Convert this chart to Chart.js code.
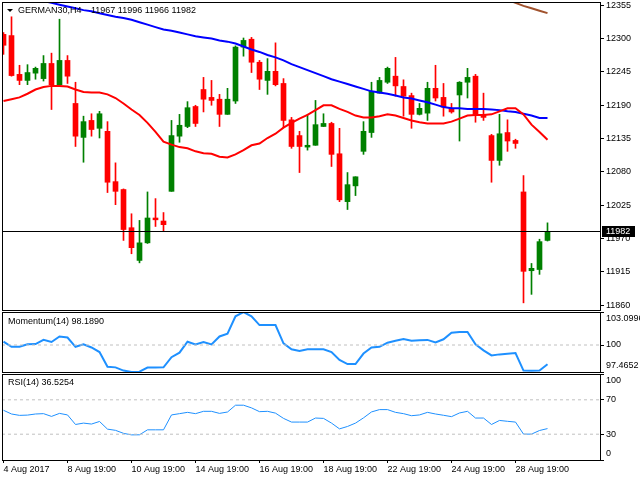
<!DOCTYPE html>
<html>
<head>
<meta charset="utf-8">
<title>GERMAN30,H4</title>
<script src="https://cdn.jsdelivr.net/npm/chart.js@4.4.1/dist/chart.umd.min.js"></script>
<style>
  html, body { margin: 0; padding: 0; background: #fff; }
  #wrap { position: relative; width: 640px; height: 480px; overflow: hidden; }
  #wrap canvas { position: absolute; left: 0; }
  #main { top: 0; }
  #mom { top: 310px; }
  #rsi { top: 372px; }
</style>
</head>
<body>
<div id="wrap">
  <canvas id="main" width="640" height="312"></canvas>
  <canvas id="mom" width="640" height="64"></canvas>
  <canvas id="rsi" width="640" height="108"></canvas>
</div>
<script>
// H4 candles, one entry per bar
const symbol = "GERMAN30,H4";
const opens = [12307, 12305, 12241, 12231, 12243, 12234, 12259, 12224, 12264, 12193,
  12137, 12165, 12152, 12147, 12064, 12051, 11988, 11934, 11963, 12004,
  11999, 12048, 12139, 12155, 12188, 12216, 12203, 12200, 12175, 12197,
  12286, 12299, 12261, 12231, 12246, 12226, 12166, 12140, 12121, 12124,
  12155, 12160, 12110, 12031, 12057, 12114, 12145, 12210, 12228, 12238,
  12221, 12206, 12175, 12177, 12218, 12203, 12185, 12207, 12228, 12238,
  12175, 12140, 12099, 12145, 12132, 12047, 11917, 11919, 11967];
const highs = [12310, 12336, 12256, 12257, 12253, 12272, 12276, 12332, 12272, 12228,
  12172, 12176, 12180, 12163, 12095, 12052, 12011, 12000, 12047, 12036,
  12013, 12165, 12175, 12196, 12190, 12236, 12231, 12208, 12218, 12288,
  12301, 12302, 12264, 12267, 12293, 12234, 12170, 12147, 12175, 12198,
  12176, 12162, 12152, 12079, 12072, 12163, 12228, 12236, 12253, 12269,
  12232, 12210, 12193, 12228, 12256, 12226, 12193, 12229, 12251, 12241,
  12210, 12142, 12175, 12166, 12134, 12074, 11929, 11969, 11996];
const lows = [12274, 12238, 12224, 12224, 12233, 12230, 12183, 12222, 12226, 12122,
  12096, 12139, 12136, 12046, 12026, 11967, 11945, 11930, 11962, 11990,
  11983, 12048, 12129, 12153, 12155, 12179, 12190, 12155, 12175, 12193,
  12271, 12244, 12216, 12208, 12222, 12153, 12119, 12079, 12116, 12124,
  12155, 12089, 12031, 12018, 12041, 12109, 12137, 12210, 12226, 12205,
  12172, 12152, 12174, 12165, 12197, 12172, 12177, 12131, 12202, 12162,
  12165, 12063, 12091, 12114, 12119, 11864, 11878, 11911, 11966];
const closes = [12289, 12239, 12231, 12244, 12251, 12259, 12224, 12264, 12238, 12139,
  12163, 12150, 12176, 12063, 12048, 11985, 11955, 11963, 12004, 12001,
  11993, 12140, 12157, 12186, 12160, 12200, 12198, 12175, 12200, 12286,
  12297, 12261, 12233, 12246, 12224, 12165, 12122, 12122, 12124, 12158,
  12160, 12109, 12034, 12059, 12072, 12147, 12213, 12231, 12251, 12222,
  12205, 12175, 12185, 12218, 12202, 12187, 12179, 12228, 12236, 12174,
  12170, 12099, 12143, 12131, 12127, 11916, 11921, 11965, 11982];

// moving averages (red, blue, brown)
const maRed = [12197, 12200, 12203, 12209, 12216, 12220, 12222, 12222, 12221, 12216,
  12212, 12211, 12211, 12208, 12202, 12193, 12183, 12174, 12161, 12146,
  12130, 12125, 12121, 12119, 12114, 12111, 12110, 12105, 12104, 12109,
  12116, 12124, 12127, 12136, 12143, 12153, 12161, 12168, 12174, 12182,
  12190, 12190, 12184, 12179, 12173, 12170, 12170, 12172, 12175, 12173,
  12169, 12165, 12162, 12160, 12160, 12160, 12163, 12168, 12173, 12174,
  12174, 12175, 12180, 12185, 12185, 12175, 12158, 12146, 12133];
const maBlue = [12376, 12373, 12370, 12367, 12365, 12362, 12359, 12356, 12353, 12350,
  12347, 12345, 12342, 12339, 12336, 12334, 12331, 12327, 12323, 12319,
  12315, 12313, 12310, 12307, 12304, 12302, 12300, 12297, 12295, 12292,
  12287, 12282, 12278, 12273, 12269, 12264, 12258, 12253, 12248, 12243,
  12238, 12233, 12229, 12225, 12221, 12217, 12213, 12211, 12209, 12206,
  12203, 12201, 12198, 12195, 12191, 12187, 12185, 12185, 12184, 12184,
  12184, 12183, 12182, 12180, 12179, 12176, 12173, 12169, 12169];
const maBrown = [null, null, null, null, null, null, null, null, null, null,
  null, null, null, null, null, null, null, null, null, null,
  null, null, null, null, null, null, null, null, null, null,
  null, null, null, null, null, null, null, null, null, null,
  null, null, null, null, null, null, null, null, null, null,
  null, null, null, null, null, null, null, null, null, null,
  12376, 12372, 12368, 12364, 12359, 12354, 12350, 12346, 12342];

const momentum = [100.31, 99.83, 99.83, 100.06, 100.09, 100.48, 100.28, 100.8, 100.7, 99.83,
  100.06, 99.77, 99.34, 97.95, 97.9, 97.6, 97.47, 97.5, 97.88, 97.88,
  97.9, 98.85, 99.28, 100.31, 100.06, 100.28, 100.06, 100.8, 101.06, 102.7,
  103.09, 102.7, 101.87, 101.87, 101.87, 100.15, 99.6, 99.44, 99.6, 99.6,
  99.6, 99.34, 98.6, 98.21, 98.21, 99.2, 99.77, 99.83, 100.22, 100.4,
  100.57, 100.41, 100.45, 100.48, 100.25, 100.54, 101.15, 101.22, 101.22, 100.06,
  99.5, 99.02, 99.12, 99.18, 99.24, 97.6, 97.58, 97.6, 98.189];
const rsi = [57.8, 53.5, 51.9, 52.2, 53.5, 53.9, 50.7, 54.2, 52.4, 41.3,
  42.9, 41.8, 44.8, 35.9, 34.5, 31, 29.2, 29.3, 35.1, 35.1,
  35.1, 52.4, 53.9, 55.4, 53.9, 56.6, 56.6, 54.2, 55.8, 63.7,
  63.7, 60.6, 56.2, 56.6, 54.5, 48.4, 44.1, 44.1, 44.1, 48.8,
  48.4, 42.9, 36.2, 39, 42.9, 49, 55.9, 58.6, 58.6, 55.4,
  53.9, 51.5, 52.4, 55.4, 53.5, 52, 50.4, 54.7, 56.6, 48.8,
  48.8, 41.3, 46, 45, 44.1, 30.1, 30.1, 34.3, 36.5254];

// axes
const priceTicks = [11860, 11915, 11970, 12025, 12080, 12135, 12190, 12245, 12300, 12355];
const momTicks = [97.4652, 100, 103.0996];
const momTickLabels = ["97.4652", "100", "103.0996"];
const momLevels = [100];
const rsiTicks = [0, 30, 70, 100];
const rsiLevels = [30, 70];
const xTickIdx = [0, 8, 16, 24, 32, 40, 48, 56, 64];
const xTickLabels = ["4 Aug 2017", "8 Aug 19:00", "10 Aug 19:00", "14 Aug 19:00", "16 Aug 19:00",
  "18 Aug 19:00", "22 Aug 19:00", "24 Aug 19:00", "28 Aug 19:00"];

const FONT = "'Liberation Sans', Arial, sans-serif";
const FSIZE = 9;
const X_MIN = -0.1875, X_MAX = 74.5625;
const last = closes.length - 1;
const idx = closes.map((_, i) => i);
const candleColor = idx.map(i => closes[i] >= opens[i] ? "#008000" : "#ff0000");
const pts = arr => arr.map((v, i) => ({ x: i, y: v }));
const level = v => [{ x: X_MIN, y: v }, { x: X_MAX, y: v }];

function xAxis(show) {
  return {
    type: "linear", min: X_MIN, max: X_MAX, offset: false, display: show,
    afterBuildTicks: s => { s.ticks = xTickIdx.map(v => ({ value: v })); },
    afterFit: s => {
      if (show) s.height = 20;
      s.paddingLeft = 0; s.paddingRight = 0;
    },
    grid: { offset: false, drawOnChartArea: false, drawTicks: true, tickLength: 3, color: "#000" },
    border: { display: false },
    ticks: {
      autoSkip: false, maxRotation: 0, align: "start", padding: 1, color: "#000",
      font: { family: FONT, size: FSIZE },
      callback: v => xTickLabels[xTickIdx.indexOf(v)]
    }
  };
}

function yAxis(min, max, ticks, label) {
  return {
    position: "right", min, max,
    afterBuildTicks: s => { s.ticks = ticks.map(v => ({ value: v })); },
    afterFit: s => { s.width = 40; s.paddingTop = 0; s.paddingBottom = 0; },
    grid: { drawOnChartArea: false, drawTicks: true, tickLength: 4, color: "#000" },
    border: { display: false },
    ticks: {
      autoSkip: false, padding: 2, color: "#000",
      font: { family: FONT, size: FSIZE, lineHeight: 1.5 }, callback: label
    }
  };
}

// black frame round each panel + caption in the top left corner
const panelPlugin = {
  id: "panel",
  afterDraw(chart, args, opts) {
    const { ctx, chartArea: a } = chart;
    ctx.save();
    ctx.strokeStyle = "#000";
    ctx.lineWidth = 1;
    ctx.strokeRect(Math.round(a.left) + 0.5, Math.round(a.top) + 0.5,
      Math.round(a.right - a.left), Math.round(a.bottom - a.top));
    if (opts.text) {
      ctx.fillStyle = "#000";
      ctx.font = FSIZE + "px " + FONT;
      ctx.textBaseline = "middle";
      ctx.fillText(opts.text, opts.x, opts.y);
    }
    ctx.restore();
  }
};

// current price line and the black price box
const pricePlugin = {
  id: "lastPrice",
  afterDatasetsDraw(chart) {
    const { ctx, chartArea: a } = chart;
    const y = Math.round(chart.scales.y.getPixelForValue(closes[last])) + 0.5;
    ctx.save();
    ctx.strokeStyle = "#000";
    ctx.lineWidth = 1;
    ctx.beginPath();
    ctx.moveTo(a.left, y);
    ctx.lineTo(a.right, y);
    ctx.stroke();
    ctx.restore();
  },
  afterDraw(chart) {
    const { ctx, chartArea: a } = chart;
    const y = Math.round(chart.scales.y.getPixelForValue(closes[last]));
    ctx.save();
    ctx.fillStyle = "#000";
    ctx.fillRect(a.right + 2, y - 5, 33, 11);
    ctx.fillStyle = "#fff";
    ctx.font = FSIZE + "px " + FONT;
    ctx.textBaseline = "middle";
    ctx.fillText(String(closes[last]), a.right + 6, y + 0.5);
    // header: symbol and OHLC of the last bar
    ctx.fillStyle = "#000";
    ctx.beginPath();
    ctx.moveTo(7, 9); ctx.lineTo(13, 9); ctx.lineTo(10, 12); ctx.closePath();
    ctx.fill();
    ctx.fillText(symbol, 18, 11);
    ctx.fillText([opens[last], highs[last], lows[last], closes[last]].join(" "), 91, 11);
    ctx.restore();
  }
};

const common = {
  responsive: false,
  animation: false,
  events: [],
  plugins: { legend: { display: false }, tooltip: { enabled: false } }
};

new Chart(document.getElementById("main"), {
  type: "bar",
  data: {
    datasets: [
      { type: "line", data: pts(maRed), borderColor: "#ff0000", borderWidth: 2, pointRadius: 0, tension: 0, clip: 0, order: 0 },
      { type: "line", data: pts(maBlue), borderColor: "#0000ff", borderWidth: 2, pointRadius: 0, tension: 0, clip: 0, order: 0 },
      { type: "line", data: pts(maBrown), borderColor: "#a0522d", borderWidth: 2, pointRadius: 0, tension: 0, clip: 0, order: 0 },
      {
        data: idx.map(i => ({ x: i, y: [Math.min(opens[i], closes[i]), Math.max(opens[i], closes[i])] })),
        backgroundColor: candleColor, barThickness: 5, minBarLength: 1, grouped: false, clip: 0, order: 1
      },
      {
        data: idx.map(i => ({ x: i, y: [lows[i], highs[i]] })),
        backgroundColor: candleColor, barThickness: 1, grouped: false, clip: 0, order: 2
      }
    ]
  },
  options: {
    ...common,
    layout: { padding: { top: 2, bottom: 2, left: 2, right: 0 } },
    plugins: { ...common.plugins, panel: {} },
    scales: {
      x: xAxis(false),
      y: yAxis(11852.2, 12360.4, priceTicks, v => String(v))
    }
  },
  plugins: [panelPlugin, pricePlugin]
});

new Chart(document.getElementById("mom"), {
  type: "line",
  data: {
    datasets: [
      ...momLevels.map(v => ({ data: level(v), borderColor: "#c0c0c0", borderWidth: 1, borderDash: [3, 3], pointRadius: 0 })),
      { data: pts(momentum), borderColor: "#1e90ff", borderWidth: 2, pointRadius: 0, tension: 0, clip: 0 }
    ]
  },
  options: {
    ...common,
    layout: { padding: { top: 2, bottom: 2, left: 2, right: 0 } },
    plugins: { ...common.plugins, panel: { text: "Momentum(14) " + momentum[last].toFixed(4), x: 8, y: 12 } },
    scales: {
      x: xAxis(false),
      y: yAxis(momTicks[0], momTicks[2], momTicks, (v, i) => {
        const t = momTickLabels[i];
        if (i === momTicks.length - 1) return ["", t];
        if (i === 0) return [t, ""];
        return t;
      })
    }
  },
  plugins: [panelPlugin]
});

new Chart(document.getElementById("rsi"), {
  type: "line",
  data: {
    datasets: [
      ...rsiLevels.map(v => ({ data: level(v), borderColor: "#c0c0c0", borderWidth: 1, borderDash: [3, 3], pointRadius: 0 })),
      { data: pts(rsi), borderColor: "#1e90ff", borderWidth: 1, pointRadius: 0, tension: 0, clip: 0 }
    ]
  },
  options: {
    ...common,
    layout: { padding: { top: 2, bottom: 0, left: 2, right: 0 } },
    plugins: { ...common.plugins, panel: { text: "RSI(14) " + rsi[last].toFixed(4), x: 8, y: 11 } },
    scales: {
      x: xAxis(true),
      y: yAxis(0, 100, rsiTicks, v => {
        if (v === 100) return ["", "100"];
        if (v === 0) return ["0", ""];
        return String(v);
      })
    }
  },
  plugins: [panelPlugin]
});
</script>
</body>
</html>
